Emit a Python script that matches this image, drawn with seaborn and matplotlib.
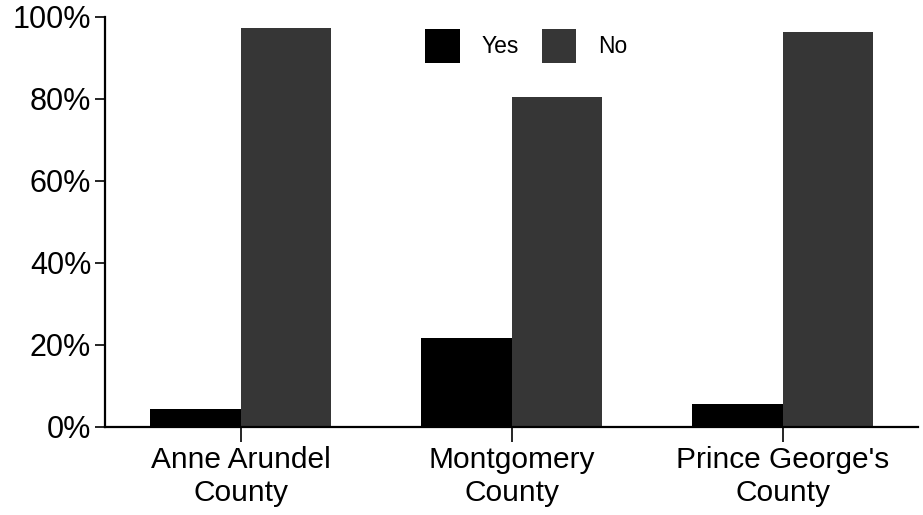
import matplotlib
matplotlib.use('Agg')
import matplotlib.pyplot as plt
import seaborn as sns
import pandas as pd

# values (percent)
counties = ['Anne Arundel\nCounty', 'Montgomery\nCounty', "Prince George's\nCounty"]
yes_pct = [4.4, 21.8, 5.6]
no_pct = [97.3, 80.5, 96.3]
answers = ['Yes', 'No']
colors = ['#000000', '#363636']

df = pd.DataFrame({
    'county': counties * 2,
    'answer': ['Yes'] * 3 + ['No'] * 3,
    'pct': yes_pct + no_pct,
})

sns.set_style('white')
plt.rcParams['font.family'] = ['Liberation Sans', 'DejaVu Sans']
plt.rcParams['text.color'] = 'black'
plt.rcParams['xtick.color'] = 'black'
plt.rcParams['ytick.color'] = 'black'

fig = plt.figure(figsize=(9.23, 5.15), dpi=100)
ax = fig.add_axes([0.1138, 0.171, 0.881, 0.796])

sns.barplot(data=df, x='county', y='pct', hue='answer', hue_order=answers,
            palette=colors, width=0.67, saturation=1, ax=ax, errorbar=None,
            linewidth=0)

ax.set_xlim(-0.5, 2.5)
ax.set_ylim(0, 100)
ax.set_yticks([0, 20, 40, 60, 80, 100])
ax.set_yticklabels(['0%', '20%', '40%', '60%', '80%', '100%'])
ax.set_xlabel('')
ax.set_ylabel('')

for side in ['top', 'right']:
    ax.spines[side].set_visible(False)
for side in ['left', 'bottom']:
    ax.spines[side].set_linewidth(1.6)
    ax.spines[side].set_color('black')

ax.tick_params(axis='y', direction='out', length=7, width=1.2, labelsize=22, pad=3, left=True)
ax.tick_params(axis='x', direction='out', length=11, width=1.2, labelsize=21.5, pad=3, bottom=True)
for lbl in ax.get_xticklabels():
    lbl.set_linespacing(1.2)

leg = ax.legend(loc='upper center', bbox_to_anchor=(0.518, 1.02), ncol=2, frameon=False,
                fontsize=16.5, handlelength=1.5, handleheight=1.85, columnspacing=1.0,
                handletextpad=0.95)

fig.savefig('out.png', dpi=100)
